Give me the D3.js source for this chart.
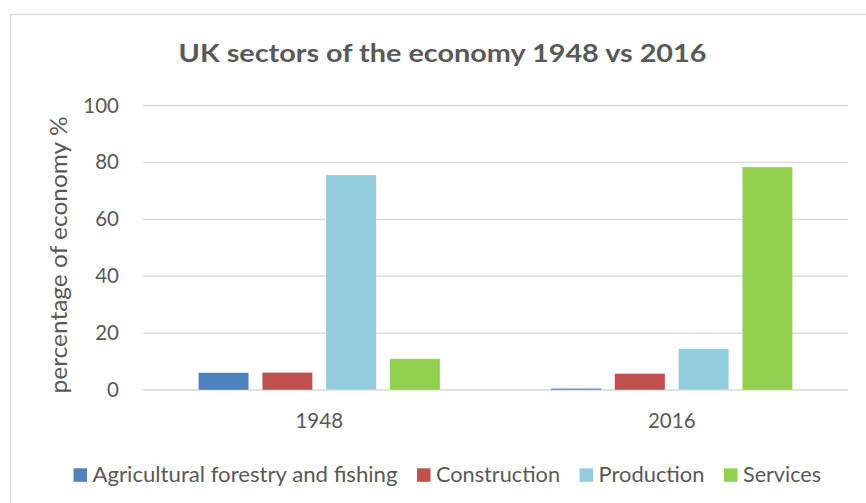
<!DOCTYPE html>
<html>
<head>
<meta charset="utf-8">
<script src="https://cdn.jsdelivr.net/npm/d3@7"></script>
<style>
  html, body { margin: 0; padding: 0; background: #ffffff; }
  svg { display: block; }
  text { font-family: Lato, "Open Sans", "Noto Sans", sans-serif; fill: #595959; }
</style>
</head>
<body>
<svg id="chart" width="866" height="503"></svg>
<script>
// Share of the UK economy by sector, percent
const years = ["1948", "2016"];
const sectors = ["Agricultural forestry and fishing", "Construction", "Production", "Services"];
const values1948 = [6.1, 6.2, 75.6, 11.0];
const values2016 = [0.6, 5.8, 14.5, 78.4];
const yTicks = [0, 20, 40, 60, 80, 100];
const sectorColors = ["#4F81BD", "#C0504D", "#93CDDD", "#92D050"];

const rows = years.map((yr, i) => ({
  year: yr,
  values: i === 0 ? values1948 : values2016
}));

const svg = d3.select("#chart");
const plot = { left: 143, right: 848, top: 105.5, bottom: 390 };

// outer chart frame (runs off the right and bottom edges)
svg.append("rect")
  .attr("x", 10.5).attr("y", 14.5)
  .attr("width", 900).attr("height", 600)
  .attr("fill", "none").attr("stroke", "#D9D9D9").attr("stroke-width", 1.2);

// title
svg.append("text")
  .attr("x", 442.5).attr("y", 62)
  .attr("text-anchor", "middle")
  .attr("font-size", 24.5).attr("font-weight", 700)
  .attr("textLength", 528).attr("lengthAdjust", "spacingAndGlyphs")
  .text("UK sectors of the economy 1948 vs 2016");

const x0 = d3.scaleBand().domain(years).range([plot.left, plot.right]).padding(0);
const groupWidth = 241.7;
const x1 = d3.scaleBand().domain(sectors).range([0, groupWidth]).paddingInner(0.21).paddingOuter(0);
const y = d3.scaleLinear().domain([0, 100]).range([plot.bottom, plot.top]);

// gridlines
svg.append("g")
  .selectAll("line")
  .data(yTicks)
  .join("line")
  .attr("x1", plot.left).attr("x2", plot.right)
  .attr("y1", d => y(d)).attr("y2", d => y(d))
  .attr("stroke", "#D9D9D9").attr("stroke-width", 1.3);

// y axis tick labels
const yAxis = d3.axisLeft(y).tickValues(yTicks).tickSize(0).tickPadding(0);
const gy = svg.append("g").attr("transform", "translate(119,0)").call(yAxis);
gy.select(".domain").remove();
gy.selectAll("text")
  .attr("font-size", 20.5)
  .attr("font-family", null)
  .attr("fill", "#595959");

// x axis category labels
const xAxis = d3.axisBottom(x0).tickSize(0).tickPadding(0);
const gx = svg.append("g").attr("transform", "translate(0,413)").call(xAxis);
gx.select(".domain").remove();
gx.selectAll("text")
  .attr("font-size", 20.5)
  .attr("font-family", null)
  .attr("fill", "#595959")
  .attr("dy", "0.71em");

// y axis title
svg.append("text")
  .attr("transform", "translate(67,255) rotate(-90)")
  .attr("text-anchor", "middle")
  .attr("font-size", 23)
  .attr("textLength", 277).attr("lengthAdjust", "spacingAndGlyphs")
  .text("percentage of economy %");

// bars
const groups = svg.append("g")
  .selectAll("g")
  .data(rows)
  .join("g")
  .attr("transform", d => `translate(${x0(d.year) + (x0.bandwidth() - groupWidth) / 2},0)`);

groups.selectAll("rect")
  .data(d => d.values.map((v, i) => ({ sector: sectors[i], value: v, color: sectorColors[i] })))
  .join("rect")
  .attr("x", d => x1(d.sector))
  .attr("width", x1.bandwidth())
  .attr("y", d => y(d.value))
  .attr("height", d => y(0) - y(d.value))
  .attr("fill", d => d.color)
  .attr("stroke", "#ffffff").attr("stroke-opacity", 0.6).attr("stroke-width", 0.6);

// legend
const legendWidths = [305, 124, 106, 78];
const legend = svg.append("g");
let lx = 73.5;
sectors.forEach((s, i) => {
  legend.append("rect")
    .attr("x", lx).attr("y", 468.3)
    .attr("width", 13.5).attr("height", 13.5)
    .attr("fill", sectorColors[i]);
  legend.append("text")
    .attr("x", lx + 19).attr("y", 481.5)
    .attr("font-size", 21.5)
    .attr("textLength", legendWidths[i]).attr("lengthAdjust", "spacingAndGlyphs")
    .text(s);
  lx += 19 + legendWidths[i] + 19.5;
});
</script>
</body>
</html>
